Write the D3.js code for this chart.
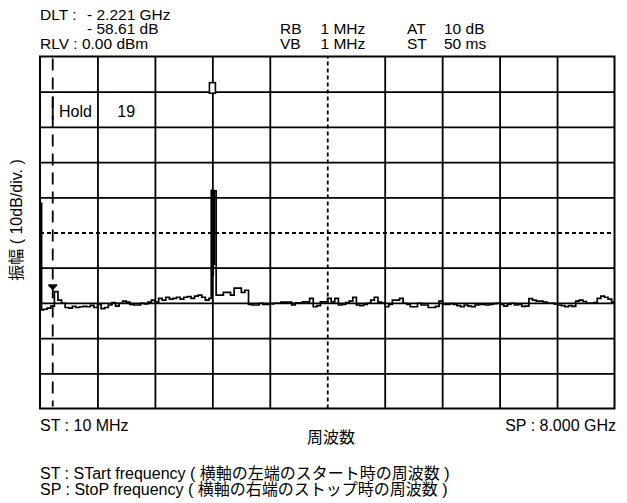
<!DOCTYPE html>
<html>
<head>
<meta charset="utf-8">
<script src="https://cdn.jsdelivr.net/npm/d3@7"></script>
<style>
  html, body { margin: 0; padding: 0; background: #fff; }
  svg { display: block; }
  text { font-family: "Liberation Sans", Arial, "Noto Sans CJK JP", sans-serif; font-size: 16px; fill: #000; }
  .hdr { font-size: 15.5px; }
</style>
</head>
<body>
<svg id="chart" width="627" height="503"></svg>
<script>
// Analyzer settings
const startMHz = 10;
const stopMHz = 8000;
const refLevelDbm = 0;
const dbPerDiv = 10;
const divisionsX = 10;
const divisionsY = 10;

// Swept trace: one reading every 50 MHz starting at 10 MHz (dBm)
const sweepStepMHz = 50;
const sweepLevelsDbm = [
  -72.0, -71.8, -71.5, -70.9, -66.8, -69.2, -70.1, -71.3, -71.5, -71.0,
  -71.3, -71.1, -71.0, -71.1, -70.7, -71.3, -70.4, -71.6, -71.3, -70.6,
  -69.9, -70.9, -70.1, -69.5, -69.8, -70.4, -70.6, -70.6, -70.1, -70.3,
  -69.8, -69.2, -69.8, -68.7, -69.2, -68.4, -68.9, -68.7, -68.4, -68.9,
  -68.4, -68.2, -68.7, -68.1, -67.8, -68.4, -69.2, -68.7, -67.8, -67.8,
  -67.8, -67.0, -67.0, -67.8, -65.8, -65.8, -67.0, -66.4, -70.4, -70.6,
  -70.6, -70.1, -70.4, -70.4, -70.3, -70.1, -70.1, -69.8, -69.8, -69.8,
  -70.6, -70.0, -70.0, -69.7, -69.7, -68.7, -71.1, -70.8, -69.7, -69.7,
  -68.7, -69.7, -68.7, -70.6, -70.4, -69.9, -69.5, -68.4, -70.6, -70.8,
  -70.4, -70.1, -69.2, -68.4, -69.8, -70.1, -71.1, -70.4, -69.2, -69.2,
  -68.7, -70.1, -70.4, -71.1, -71.1, -70.1, -70.6, -70.6, -71.3, -71.3,
  -71.0, -69.5, -70.4, -70.4, -70.2, -70.4, -70.8, -71.1, -70.6, -70.9,
  -71.1, -70.6, -70.4, -70.4, -70.6, -70.4, -70.2, -70.1, -70.4, -70.9,
  -70.4, -70.1, -70.6, -70.4, -71.0, -70.9, -68.8, -69.2, -69.5, -69.5,
  -69.8, -70.1, -70.1, -70.3, -70.6, -70.8, -71.1, -70.8, -71.0, -69.5,
  -69.2, -69.6, -70.1, -70.1, -69.9, -68.7, -68.1, -68.4, -68.9, -69.8
];

// Max-hold readings of the local-oscillator feedthrough at the start frequency
const loFreqMHz = [10, 32];
const loLevelsDbm = [-41.7, -72.0];

// Max-hold readings across the carrier burst near 2.4 GHz
const carrierFreqMHz = [2392, 2399, 2406, 2413, 2420, 2427, 2434];
const carrierLevelsDbm = [-38.0, -60.0, -38.0, -62.0, -38.1, -59.0, -38.2];

// Markers
const refMarkerMHz = 2408;     // reference marker (box)
const deltaMarkerMHz = 187;    // delta marker (triangle)
const deltaMarkerDbm = -66.8;

// Readout text
const headerLeft = [
  { t: "DLT :", col: 0, row: 0 },
  { t: "- 2.221 GHz", col: 1, row: 0 },
  { t: "- 58.61 dB", col: 1, row: 1 },
  { t: "RLV : 0.00 dBm", col: 0, row: 2 }
];
const headerSettings = [
  ["RB", "1 MHz", "AT", "10 dB"],
  ["VB", "1 MHz", "ST", "50 ms"]
];
const holdLabel = "Hold";
const holdCount = "19";
const startLabel = "ST : 10 MHz";
const stopLabel = "SP : 8.000 GHz";
const xTitle = "周波数";
const yTitle = "振幅 ( 10dB/div. )";
const notes = [
  "ST : STart frequency ( 横軸の左端のスタート時の周波数 )",
  "SP : StoP frequency ( 横軸の右端のストップ時の周波数 )"
];

// ---- layout ----
const W = 627, H = 503;
const plot = { left: 40, right: 614.5, top: 56.5, bottom: 408.5 };
const innerW = plot.right - plot.left;
const innerH = plot.bottom - plot.top;

const svg = d3.select("#chart");
svg.append("rect").attr("width", W).attr("height", H).attr("fill", "#fff");

const x = d3.scaleLinear().domain([startMHz, stopMHz]).range([plot.left, plot.right]);
const y = d3.scaleLinear()
  .domain([refLevelDbm - dbPerDiv * divisionsY, refLevelDbm])
  .range([plot.bottom, plot.top]);

// ---- graticule ----
const spanMHz = stopMHz - startMHz;
const xDivs = d3.range(1, divisionsX).map(i => startMHz + i * spanMHz / divisionsX);
const yDivs = d3.range(1, divisionsY).map(i => refLevelDbm - i * dbPerDiv);
const xCenter = xDivs[divisionsX / 2 - 1];
const yCenter = yDivs[divisionsY / 2 - 1];

const gx = svg.append("g")
  .attr("transform", `translate(0,${plot.bottom})`)
  .call(d3.axisBottom(x).tickValues(xDivs).tickSize(-innerH).tickFormat(""));
const gy = svg.append("g")
  .attr("transform", `translate(${plot.left},0)`)
  .call(d3.axisLeft(y).tickValues(yDivs).tickSize(-innerW).tickFormat(""));
[gx, gy].forEach(g => {
  g.select(".domain").remove();
  g.selectAll(".tick line").attr("stroke", "#000").attr("stroke-width", 1.8);
});
gx.selectAll(".tick line").filter(d => d === xCenter).attr("stroke-dasharray", "4,3");
gy.selectAll(".tick line").filter(d => d === yCenter).attr("stroke-dasharray", "4,3");

svg.append("rect")
  .attr("x", plot.left).attr("y", plot.top)
  .attr("width", innerW).attr("height", innerH)
  .attr("fill", "none").attr("stroke", "#000").attr("stroke-width", 2);

// ---- delta marker line ----
const mx = x(deltaMarkerMHz);
svg.append("line")
  .attr("x1", mx).attr("x2", mx)
  .attr("y1", plot.top + 2).attr("y2", plot.bottom - 2)
  .attr("stroke", "#000").attr("stroke-width", 1.8)
  .attr("stroke-dasharray", "12,7");

// Hold readout inside the second row
const holdRowTop = y(refLevelDbm - dbPerDiv);
svg.append("line")
  .attr("x1", mx).attr("x2", mx)
  .attr("y1", holdRowTop + 5).attr("y2", holdRowTop + 28)
  .attr("stroke", "#000").attr("stroke-width", 1.8);
svg.append("text").attr("x", 59).attr("y", holdRowTop + 25.5).text(holdLabel);
svg.append("text")
  .attr("x", (x(xDivs[0]) + x(xDivs[1])) / 2).attr("y", holdRowTop + 25.5)
  .attr("text-anchor", "middle").text(holdCount);

// ---- trace ----
const pts = [];
sweepLevelsDbm.forEach((v, i) => pts.push([startMHz + i * sweepStepMHz, v]));
function mergeHold(freqs, levels) {
  const lo = d3.min(freqs), hi = d3.max(freqs);
  for (let i = pts.length - 1; i >= 0; i--) {
    if (pts[i][0] >= lo && pts[i][0] <= hi) pts.splice(i, 1);
  }
  freqs.forEach((f, i) => pts.push([f, levels[i]]));
}
mergeHold(loFreqMHz, loLevelsDbm);
mergeHold(carrierFreqMHz, carrierLevelsDbm);
pts.sort((a, b) => a[0] - b[0]);
pts.push([stopMHz, pts[pts.length - 1][1]]);

const line = d3.line()
  .x(d => x(d[0]))
  .y(d => y(d[1]))
  .curve(d3.curveStepAfter);
svg.append("path")
  .datum(pts)
  .attr("d", line)
  .attr("fill", "none")
  .attr("stroke", "#000")
  .attr("stroke-width", 1.7)
  .attr("stroke-linejoin", "miter");

// triangle marker sitting on the trace
const ty = y(deltaMarkerDbm) - 1.5;
svg.append("path")
  .attr("d", `M${mx - 4.5},${ty - 6} L${mx + 4.5},${ty - 6} L${mx + 4.5},${ty - 4.5} L${mx},${ty} L${mx - 4.5},${ty - 4.5} Z`)
  .attr("fill", "#000");

// reference marker box above the carrier
const rx = x(refMarkerMHz);
const ry = y(-9);
svg.append("rect")
  .attr("x", rx - 3).attr("y", ry - 5.5)
  .attr("width", 6).attr("height", 10.5)
  .attr("fill", "#fff").attr("stroke", "#000").attr("stroke-width", 1.6);

// ---- header readouts ----
const colX = [40, 87];
const rowY = [19.5, 34, 48.5];
headerLeft.forEach(h => {
  svg.append("text").attr("class", "hdr").attr("x", colX[h.col]).attr("y", rowY[h.row]).text(h.t);
});
const settingX = [280, 320.5, 407, 444];
headerSettings.forEach((row, r) => {
  row.forEach((t, c) => {
    svg.append("text").attr("class", "hdr").attr("x", settingX[c]).attr("y", rowY[r + 1]).text(t);
  });
});

// ---- axis captions ----
svg.append("text").attr("x", 40).attr("y", 431).text(startLabel);
svg.append("text").attr("x", 616).attr("y", 431).attr("text-anchor", "end").text(stopLabel);
svg.append("text").attr("x", 331).attr("y", 443).attr("text-anchor", "middle").text(xTitle);
svg.append("text")
  .attr("transform", "translate(22,220) rotate(-90)")
  .attr("text-anchor", "middle")
  .text(yTitle);

// ---- notes ----
notes.forEach((t, i) => {
  svg.append("text").attr("x", 40).attr("y", 479 + i * 16).text(t);
});
</script>
</body>
</html>
